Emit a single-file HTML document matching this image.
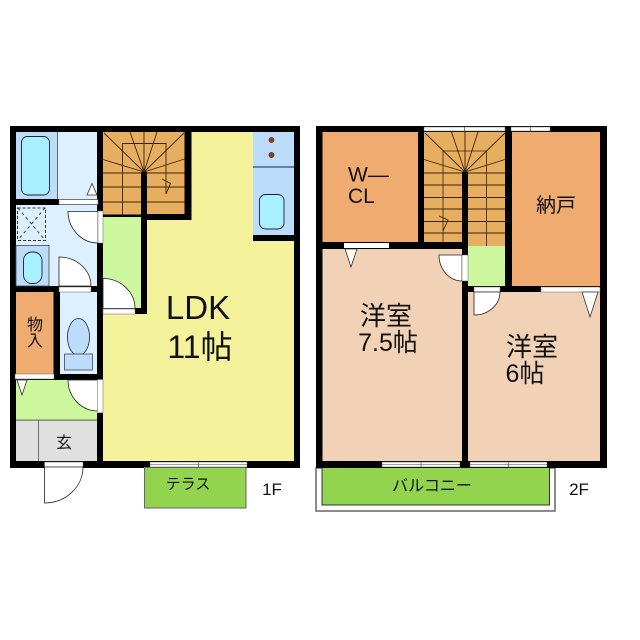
<!DOCTYPE html>
<html><head><meta charset="utf-8"><style>
html,body{margin:0;padding:0;background:#fff}
svg{display:block}
text{font-family:"Liberation Sans","Noto Sans CJK JP",sans-serif;fill:#111}
</style></head><body>
<svg width="640" height="640" viewBox="0 0 640 640" xmlns="http://www.w3.org/2000/svg">
<rect width="640" height="640" fill="#fff"/>
<!-- ===== 1F fills ===== -->
<rect x="10" y="126" width="290" height="342" fill="#000"/>
<rect x="16" y="132" width="41" height="67" fill="#bcdcfc"/>
<rect x="57" y="132" width="40" height="67" fill="#dcf0ff"/>
<rect x="16" y="205" width="81" height="81" fill="#dcf0ff"/>
<rect x="103" y="132" width="38" height="85" fill="#e8ae60"/>
<rect x="147" y="132" width="37.5" height="82" fill="#e8ae60"/>
<rect x="141" y="132" width="6" height="40" fill="#e8ae60"/>
<rect x="103" y="217" width="38" height="92" fill="#ccf79c"/>
<path d="M191.5 132H253V235H294V461H103V314H147V220H191.5Z" fill="#f4f29a"/>
<rect x="253" y="132" width="41" height="103" fill="#bcdcfc"/>
<rect x="16" y="292" width="37.5" height="82" fill="#f0ac70"/>
<rect x="60" y="292" width="37" height="82" fill="#dcf0ff"/>
<rect x="16" y="380" width="81" height="40" fill="#ccf79c"/>
<rect x="16" y="420.500" width="81" height="40.500" fill="#e0e0e0"/>
<rect x="97" y="380" width="6" height="33" fill="#fff"/>
<!-- bath -->
<rect x="57" y="132" width="0.800" height="67" fill="#445"/>
<rect x="21.500" y="136.500" width="28" height="58.500" rx="6" fill="#a8f0ff" stroke="#222" stroke-width="0.900"/>
<path d="M87 195L92 183.500L97 195Z" fill="#fff" stroke="#333" stroke-width="0.800"/>
<rect x="59" y="199.500" width="39" height="5" fill="#fff" stroke="#666" stroke-width="0.500"/>
<!-- washroom -->
<rect x="17.500" y="208" width="28" height="32.500" fill="none" stroke="#333" stroke-width="1" stroke-dasharray="3 2"/>
<path d="M18 208L45 240M45 208L18 240" fill="none" stroke="#333" stroke-width="0.900" stroke-dasharray="3 3"/>
<rect x="16" y="245.500" width="33" height="40.500" fill="#bcdcfc" stroke="#445" stroke-width="0.800"/>
<rect x="23.500" y="252" width="18.500" height="31.500" rx="8.500" fill="#a8f0ff" stroke="#222" stroke-width="0.900"/>
<path d="M98 211.500H68A30 32 0 0 0 98 243Z" fill="#fff" stroke="#222" stroke-width="0.800"/>
<rect x="98" y="211" width="5" height="32" fill="#fff" stroke="#666" stroke-width="0.500"/>
<path d="M59 286V257A32 29 0 0 1 91 286Z" fill="#fff" stroke="#222" stroke-width="0.800"/>
<rect x="59" y="287" width="32" height="5" fill="#fff" stroke="#666" stroke-width="0.500"/>
<!-- 1F stairs -->
<g fill="none" stroke="#3a2408" stroke-width="0.900">
<path d="M144 172L104 133M144 172L130 132M144 132V172M144 172L157 132M144 172L184 133M144 172L103 159.500M144 172L184.500 159"/>
<path d="M122.500 217V143.500H166V194"/>
<path d="M103 173H141M147 173H184.500M103 187H141M147 187H184.500M103 202H141M147 202H184.500"/>
<path d="M162 179L170.500 183.500L166 194"/>
</g>
<rect x="141" y="172" width="6" height="142" fill="#000"/>
<rect x="184.500" y="126" width="7" height="94" fill="#000"/>
<rect x="141" y="214" width="50.500" height="6" fill="#000"/>
<rect x="103" y="214.500" width="38" height="2.500" fill="#000"/>
<rect x="103" y="308" width="44" height="6" fill="#000"/>
<path d="M103 278.500A32 30 0 0 1 135 308.500H103Z" fill="#fff" stroke="#222" stroke-width="0.800"/>
<rect x="103" y="309" width="32" height="5" fill="#fff" stroke="#666" stroke-width="0.500"/>
<!-- kitchen -->
<path d="M253 167H294" stroke="#223" stroke-width="0.900"/>
<circle cx="271.500" cy="140" r="2.700" fill="#8a4010" stroke="#222" stroke-width="0.400"/>
<circle cx="271.500" cy="155" r="2.700" fill="#8a4010" stroke="#222" stroke-width="0.400"/>
<rect x="259.500" y="194.500" width="24.500" height="34.500" rx="6" fill="#a8f0ff" stroke="#222" stroke-width="0.900"/>
<rect x="253" y="235" width="47" height="6" fill="#000"/>
<!-- storage / toilet -->
<rect x="15" y="374" width="39" height="5" fill="#fff" stroke="#666" stroke-width="0.500"/>
<path d="M17 380H27L22 395Z" fill="#fff" stroke="#333" stroke-width="0.800"/>
<ellipse cx="78.500" cy="337" rx="11" ry="18.500" fill="#bcdcfc" stroke="#223" stroke-width="0.800"/>
<rect x="64.500" y="354" width="28" height="16" fill="#bcdcfc" stroke="#445" stroke-width="0.800"/>
<path d="M68 380H98V411A30 31 0 0 1 68 380Z" fill="#fff" stroke="#222" stroke-width="0.800"/>
<rect x="97.500" y="379.500" width="5.500" height="33" fill="#fff" stroke="#666" stroke-width="0.500"/>
<!-- entry -->
<path d="M16 420H97" stroke="#555" stroke-width="0.800"/>
<path d="M38.500 420.500V461" stroke="#555" stroke-width="0.800"/>
<rect x="44.500" y="462" width="38.500" height="5" fill="#fff" stroke="#666" stroke-width="0.500"/>
<path d="M44.500 467V503A38.500 36 0 0 0 83 467Z" fill="#fff" stroke="#222" stroke-width="0.800"/>
<!-- terrace -->
<rect x="144.500" y="467.500" width="101.500" height="40.500" fill="#92d44e" stroke="#666" stroke-width="1"/>
<rect x="150" y="462" width="97" height="5" fill="#fff" stroke="#555" stroke-width="0.500"/>
<path d="M150 464.500H247M198.500 462V467" stroke="#444" stroke-width="0.600"/>

<!-- ===== 2F ===== -->
<rect x="316" y="468" width="239" height="43" fill="#fff" stroke="#666" stroke-width="1.500"/>
<rect x="322" y="467" width="227.500" height="38" fill="#92d44e" stroke="#333" stroke-width="1"/>
<rect x="316" y="126" width="291" height="342" fill="#000"/>
<rect x="322.500" y="132" width="95.500" height="110" fill="#f0ac70"/>
<rect x="424" y="132" width="81" height="40" fill="#e8ae60"/>
<rect x="424" y="172" width="38" height="70" fill="#e8ae60"/>
<rect x="468" y="172" width="37" height="74" fill="#e8ae60"/>
<rect x="468" y="246" width="37" height="40" fill="#ccf79c"/>
<rect x="512" y="132" width="88" height="154" fill="#f0ac70"/>
<rect x="322.500" y="249" width="139.500" height="212" fill="#f2d2b6"/>
<rect x="468" y="292" width="132" height="169" fill="#f2d2b6"/>
<g fill="none" stroke="#3a2408" stroke-width="0.900">
<path d="M465 172L425 133M465 172L451.500 132M465 172L478 132M465 172L505 133M465 172L424 159.500M465 172L505 159.500"/>
<path d="M465 132V172"/>
<path d="M443 242V151H486.500V246" stroke-width="0.800"/>
<path d="M424 173H462M468 173H505M424 185H462M468 185H505M424 197.500H462M468 197.500H505M424 209H462M468 209H505M424 221.500H462M468 221.500H505M424 233H462M468 233H505"/>
<path d="M439 216L448 220L443 231"/>
</g>
<rect x="462" y="172" width="6" height="20" fill="#000"/>
<!-- top windows -->
<rect x="424" y="127" width="81" height="4" fill="#fff" stroke="#666" stroke-width="0.500"/>
<path d="M464.500 127V131" stroke="#444" stroke-width="0.700"/>
<rect x="511" y="127" width="39" height="4" fill="#fff" stroke="#666" stroke-width="0.500"/>
<path d="M530.500 127V131" stroke="#444" stroke-width="0.700"/>
<!-- doors -->
<rect x="344" y="243" width="45" height="5" fill="#fff"/>
<path d="M345 249H357L351 267Z" fill="#fff" stroke="#333" stroke-width="0.800"/>
<path d="M439 255H462V281A23 26 0 0 1 439 255Z" fill="#fff" stroke="#222" stroke-width="0.800"/>
<rect x="462" y="255" width="6" height="26" fill="#fff" stroke="#666" stroke-width="0.500"/>
<rect x="474" y="287" width="26" height="5" fill="#fff" stroke="#666" stroke-width="0.500"/>
<path d="M474 292V315A26 23 0 0 0 500 292Z" fill="#fff" stroke="#222" stroke-width="0.800"/>
<rect x="541" y="287" width="59" height="5" fill="#fff" stroke="#666" stroke-width="0.500"/>
<path d="M582 292H598L590 317Z" fill="#fff" stroke="#333" stroke-width="0.800"/>
<!-- bottom windows -->
<rect x="382" y="462" width="78" height="5" fill="#fff" stroke="#555" stroke-width="0.500"/>
<path d="M382 464.500H460M421 462V467" stroke="#444" stroke-width="0.600"/>
<rect x="470" y="462" width="77" height="5" fill="#fff" stroke="#555" stroke-width="0.500"/>
<path d="M470 464.500H547M508.500 462V467" stroke="#444" stroke-width="0.600"/>

<!-- ===== text ===== -->
<text x="198" y="319" font-size="33" text-anchor="middle">LDK</text>
<text x="200" y="358" font-size="32" text-anchor="middle">11帖</text>
<text x="35" y="330" font-size="16" text-anchor="middle">物</text>
<text x="35" y="346" font-size="16" text-anchor="middle">入</text>
<text x="64" y="448" font-size="16" text-anchor="middle">玄</text>
<text x="188" y="489" font-size="15" text-anchor="middle">テラス</text>
<text x="272" y="495" font-size="17" text-anchor="middle">1F</text>
<text x="348" y="181.500" font-size="21">W—</text>
<text x="348" y="203" font-size="21">CL</text>
<text x="556" y="212" font-size="20" text-anchor="middle">納戸</text>
<text x="386" y="325" font-size="26" text-anchor="middle">洋室</text>
<text x="388" y="351" font-size="25" text-anchor="middle">7.5帖</text>
<text x="532" y="356" font-size="26" text-anchor="middle">洋室</text>
<text x="525" y="382" font-size="25" text-anchor="middle">6帖</text>
<text x="432" y="491" font-size="16" text-anchor="middle">バルコニー</text>
<text x="579" y="495" font-size="17" text-anchor="middle">2F</text>
</svg>
</body></html>
